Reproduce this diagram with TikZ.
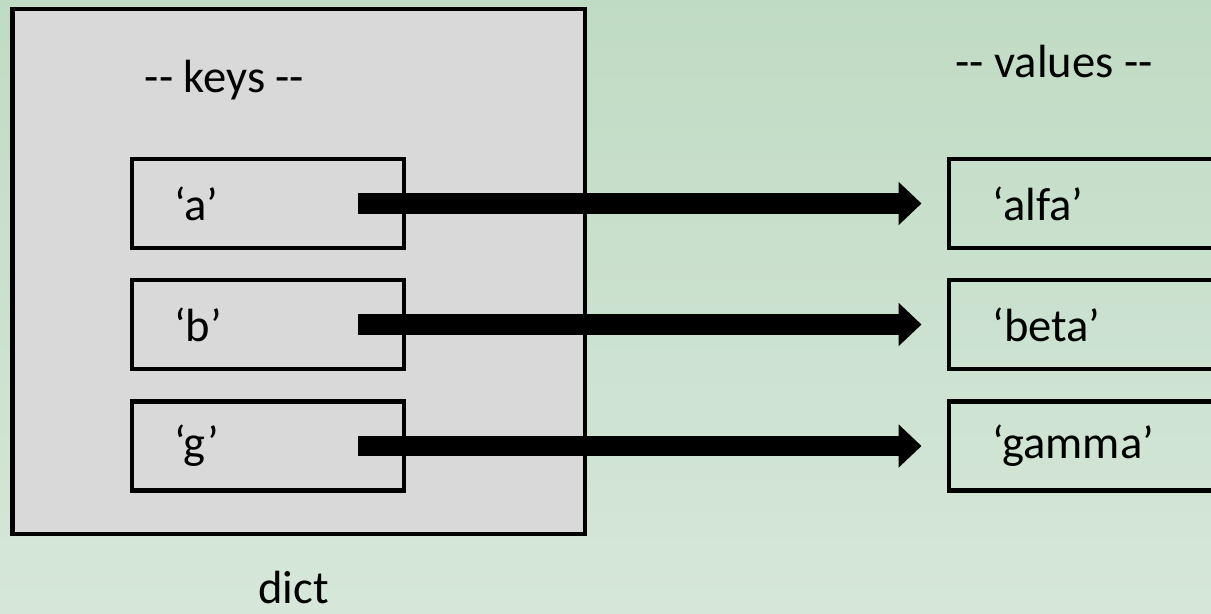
\documentclass[tikz,border=0pt]{standalone}
\usepackage{xcolor}
\usepackage{tikz}
\usepackage{fontspec}
\setmainfont{Carlito}
\usetikzlibrary{positioning,calc,arrows.meta}

\definecolor{bgtop}{RGB}{192,219,196}
\definecolor{bgbottom}{RGB}{214,231,217}
\definecolor{dictgray}{RGB}{217,217,217}

\tikzset{
    keybox/.style={draw, line width=2.3pt, minimum width=5.44cm, minimum height=1.78cm,
        text width=5.44cm, inner xsep=0pt, align=left, font=\fontsize{26.5}{32}\selectfont},
    bigarrow/.style={line width=11.4pt, -{Triangle[length=0.46cm, width=0.84cm]}}
}

\begin{document}
\begin{tikzpicture}[x=0.02cm, y=-0.02cm]
    % Background
    \clip (0,0) rectangle (1211,613);
    \shade[top color=bgtop, bottom color=bgbottom] (0,0) rectangle (1211,613);

    % Dict box
    \draw[line width=2.3pt, fill=dictgray] (12.5,9) rectangle (585,534);
    \node[anchor=base, font=\fontsize{26.5}{32}\selectfont] (keys) at (224.5,92) {-{}- keys -{}-};
    \node[anchor=base, font=\fontsize{26.5}{32}\selectfont] (dict) at (293.5,603) {dict};

    % Keys
    \node[keybox] (ka) at (268,203.5) {\hspace{0.84cm}‘a’};
    \node[keybox] (kb) at (268,324.5) {\hspace{0.84cm}‘b’};
    \node[keybox] (kg) at (268,446) {\hspace{0.84cm}‘g’};

    % Values
    \node[anchor=base, font=\fontsize{26.5}{32}\selectfont] (vals) at (1054,77) {-{}- values -{}-};
    \node[keybox] (va) at (1084.5,203.5) {\hspace{0.88cm}‘alfa’};
    \node[keybox] (vb) at (1084.5,324.5) {\hspace{0.88cm}‘beta’};
    \node[keybox] (vg) at (1084.5,446) {\hspace{0.88cm}‘gamma’};

    % Arrows
    \draw[bigarrow] ([xshift=-0.96cm]ka.east) -- ([xshift=-0.5cm]va.west);
    \draw[bigarrow] ([xshift=-0.96cm]kb.east) -- ([xshift=-0.5cm]vb.west);
    \draw[bigarrow] ([xshift=-0.96cm]kg.east) -- ([xshift=-0.5cm]vg.west);
\end{tikzpicture}
\end{document}
